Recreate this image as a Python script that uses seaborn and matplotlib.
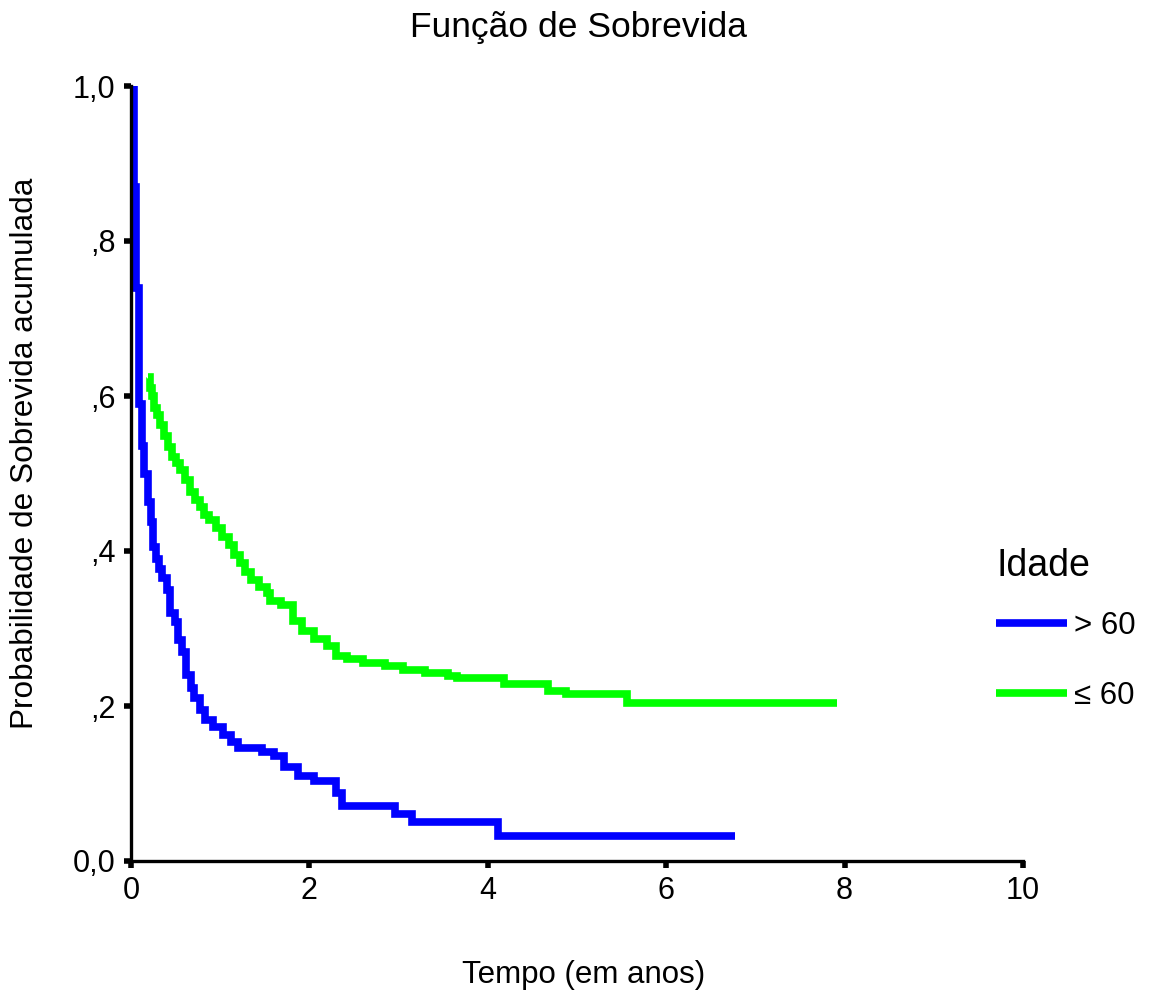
import numpy as np
import pandas as pd
import matplotlib
matplotlib.use("Agg")
import matplotlib.pyplot as plt
import seaborn as sns

# ---- data ----
groups = ["> 60", "≤ 60"]

t_old = [0.02, 0.03, 0.06, 0.09, 0.12, 0.15, 0.19, 0.22, 0.25, 0.28, 0.31, 0.35,
         0.40, 0.44, 0.49, 0.53, 0.57, 0.62, 0.67, 0.71, 0.77, 0.83, 0.92, 1.03,
         1.12, 1.20, 1.47, 1.60, 1.72, 1.87, 2.05, 2.30, 2.37, 2.96, 3.15, 4.11, 6.77]
s_old = [1.000, 0.870, 0.740, 0.590, 0.535, 0.500, 0.463, 0.437, 0.405, 0.390, 0.377, 0.365,
         0.350, 0.320, 0.308, 0.285, 0.270, 0.240, 0.223, 0.210, 0.195, 0.182, 0.173, 0.162,
         0.153, 0.146, 0.141, 0.136, 0.121, 0.110, 0.103, 0.088, 0.071, 0.061, 0.050, 0.032, 0.032]

t_young = [0.19, 0.21, 0.23, 0.26, 0.29, 0.33, 0.37, 0.41, 0.46, 0.50, 0.55, 0.61,
           0.66, 0.72, 0.77, 0.82, 0.88, 0.95, 1.02, 1.10, 1.15, 1.22, 1.28, 1.35,
           1.43, 1.52, 1.56, 1.68, 1.82, 1.92, 2.05, 2.20, 2.30, 2.42, 2.60, 2.85,
           3.05, 3.30, 3.55, 3.65, 4.18, 4.68, 4.88, 5.56, 7.92]
s_young = [0.625, 0.610, 0.600, 0.585, 0.575, 0.562, 0.549, 0.534, 0.521, 0.513, 0.504, 0.491,
           0.476, 0.466, 0.457, 0.447, 0.440, 0.430, 0.418, 0.408, 0.395, 0.385, 0.373, 0.363,
           0.354, 0.346, 0.336, 0.330, 0.310, 0.297, 0.287, 0.278, 0.265, 0.261, 0.256, 0.252,
           0.247, 0.243, 0.239, 0.236, 0.229, 0.220, 0.215, 0.204, 0.204]

x_ticks = [0, 2, 4, 6, 8, 10]
x_ticklabels = ["0", "2", "4", "6", "8", "10"]
y_ticks = [0.0, 0.2, 0.4, 0.6, 0.8, 1.0]
y_ticklabels = ["0,0", ",2", ",4", ",6", ",8", "1,0"]

df = pd.DataFrame({
    "Tempo": t_old + t_young,
    "Sobrevida": s_old + s_young,
    "Idade": [groups[0]] * len(t_old) + [groups[1]] * len(t_young),
})

# ---- plot ----
sns.set_style("white")
plt.rcParams["font.family"] = ["Liberation Sans", "DejaVu Sans"]
plt.rcParams["text.color"] = "black"
plt.rcParams["axes.labelcolor"] = "black"
plt.rcParams["xtick.color"] = "black"
plt.rcParams["ytick.color"] = "black"

fig = plt.figure(figsize=(11.49, 9.98), dpi=100)
ax = fig.add_axes([131 / 1149, 1 - 861 / 998, (1023 - 131) / 1149, (861 - 86) / 998])

sns.lineplot(data=df, x="Tempo", y="Sobrevida", hue="Idade", hue_order=groups,
             palette={groups[0]: "#0000ff", groups[1]: "#00ff00"},
             estimator=None, sort=True, drawstyle="steps-post",
             linewidth=5.5, ax=ax, legend=True,
             solid_joinstyle="miter", solid_capstyle="butt")

ax.set_xlim(0, 10)
ax.set_ylim(0, 1)
ax.set_xticks(x_ticks)
ax.set_xticklabels(x_ticklabels)
ax.set_yticks(y_ticks)
ax.set_yticklabels(y_ticklabels)

for side in ["top", "right"]:
    ax.spines[side].set_visible(False)
for side in ["left", "bottom"]:
    ax.spines[side].set_visible(True)
    ax.spines[side].set_color("black")
    ax.spines[side].set_linewidth(2.4)

ax.tick_params(axis="both", which="major", direction="out", length=5, width=4,
               color="black", labelcolor="black", labelsize=22, pad=6,
               bottom=True, left=True)

ax.set_xlabel("")
ax.set_ylabel("")
fig.text(584 / 1149, 1 - 975 / 998, "Tempo (em anos)", ha="center", va="center",
         fontsize=22.5, color="black")
fig.text(25 / 1149, 1 - 453 / 998, "Probabilidade de Sobrevida acumulada",
         ha="center", va="center", rotation=90, fontsize=22.7, color="black")
fig.text(578 / 1149, 1 - 28 / 998, "Função de Sobrevida",
         ha="center", va="center", fontsize=25.5, color="black")

# legend title
fig.text(996 / 1149, 1 - 566 / 998, "Idade", ha="left", va="center",
         fontsize=27, color="black")

handles, labels = ax.get_legend_handles_labels()
leg = ax.legend(handles, labels, loc="center left",
                bbox_to_anchor=(983 / 1149, 1 - 661 / 998), bbox_transform=fig.transFigure,
                frameon=False, fontsize=22.5,
                handlelength=2.3, handletextpad=0.2, labelspacing=1.26,
                borderaxespad=0)
for lh in leg.get_lines():
    lh.set_linewidth(5.5)
    lh.set_solid_capstyle("butt")
for txt in leg.get_texts():
    txt.set_color("black")

fig.savefig("out.png", dpi=100, facecolor="white")
